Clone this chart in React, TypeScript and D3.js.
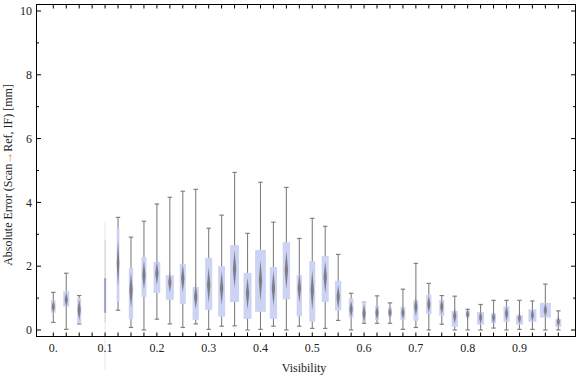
import React from "react";
import * as d3 from "d3";

// Category positions (visibility); 0.075 has no data
const visibility = [0, 0.025, 0.05, 0.1, 0.125, 0.15, 0.175, 0.2, 0.225, 0.25, 0.275, 0.3, 0.325, 0.35, 0.375, 0.4, 0.425, 0.45, 0.475, 0.5, 0.525, 0.55, 0.575, 0.6, 0.625, 0.65, 0.675, 0.7, 0.725, 0.75, 0.775, 0.8, 0.825, 0.85, 0.875, 0.9, 0.925, 0.95, 0.975];
const whiskerLow = [0.24, 0.02, 0.19, -1.25, 0.62, 0.08, 0.0, 0.34, 0.19, 0.08, 0.19, 0.02, 0.12, 0.13, 0.0, 0.02, 0.12, 0.0, 0.12, 0.05, 0.05, 0.3, 0.0, 0.21, 0.21, 0.21, 0.02, 0.08, 0.0, 0.18, 0.0, 0.0, 0.0, 0.06, 0.0, 0.02, 0.02, 0.0, 0.0];
const q1 = [0.54, 0.73, 0.21, 0.54, 0.89, 0.34, 1.04, 1.16, 0.95, 0.82, 0.32, 0.63, 0.42, 0.88, 0.35, 0.57, 0.35, 0.96, 0.43, 0.26, 0.88, 0.61, 0.39, 0.25, 0.31, 0.42, 0.32, 0.29, 0.5, 0.44, 0.1, 0.4, 0.17, 0.21, 0.26, 0.17, 0.26, 0.39, 0.1];
const median = [0.73, 0.95, 0.63, 1.1, 2.09, 1.25, 1.72, 1.78, 1.49, 1.62, 1.04, 1.41, 1.31, 1.91, 1.15, 1.55, 1.31, 1.88, 1.31, 1.25, 1.65, 1.04, 0.65, 0.52, 0.54, 0.55, 0.54, 0.73, 0.8, 0.73, 0.44, 0.49, 0.39, 0.39, 0.52, 0.37, 0.47, 0.62, 0.26];
const q3 = [0.94, 1.22, 1.0, 1.62, 3.17, 1.94, 2.29, 2.13, 1.72, 2.07, 1.35, 2.26, 2.0, 2.66, 1.79, 2.51, 1.97, 2.75, 1.72, 2.16, 2.32, 1.54, 0.99, 0.88, 0.76, 0.7, 0.72, 0.94, 1.1, 0.94, 0.6, 0.6, 0.56, 0.52, 0.74, 0.46, 0.65, 0.85, 0.34];
const whiskerHigh = [1.18, 1.78, 1.08, 3.4, 3.53, 2.91, 3.41, 3.95, 4.16, 4.35, 4.41, 3.19, 3.6, 4.94, 3.03, 4.63, 3.38, 4.47, 2.87, 3.5, 3.25, 2.37, 1.15, 0.87, 1.07, 0.85, 1.28, 2.09, 1.46, 1.08, 1.06, 0.65, 0.8, 0.93, 0.93, 0.93, 0.91, 1.44, 0.6];
// relative sample weight (drives box width)
const weight = [4.7, 6, 4, 2.3, 2.7, 4.3, 5, 6.7, 8, 6, 6.3, 7, 7, 9, 8, 10.7, 7.3, 7.3, 5.3, 6, 7, 6.3, 4.7, 3.7, 4, 4, 5, 5, 5.3, 5, 6.3, 4, 7, 5, 6, 7, 8, 11, 6];

const xTickLabels = ["0.", "0.1", "0.2", "0.3", "0.4", "0.5", "0.6", "0.7", "0.8", "0.9"];
const xTickLabelValues = [0, 0.1, 0.2, 0.3, 0.4, 0.5, 0.6, 0.7, 0.8, 0.9];
const yMajor = [0, 2, 4, 6, 8, 10];
const yMinor = [1, 3, 5, 7, 9];

const W = 576, H = 377;
const frame = { left: 36.5, right: 575.5, top: 4.5, bottom: 336.5 };
const x = d3.scaleLinear().domain([0, 0.975]).range([53.3, 558.3]);
const y = d3.scaleLinear().domain([0, 10]).range([330, 11]);
const wScale = d3.scaleLinear().domain([0, 11]).range([0, 11]);
const catTicks = d3.range(0, 40).map((i) => i * 0.025);

const FONT = "'Liberation Serif', 'Times New Roman', serif";
const BOX = "#ccd3f4";
const WH = "#808080";

export default function App() {
  return (
    <svg width={W} height={H} style={{ position: "absolute", left: 0, top: 0, background: "#fff" }}>
      <defs>
        <filter id="soft" x="-100%" y="-20%" width="300%" height="140%">
          <feGaussianBlur stdDeviation="0.6 1.2" />
        </filter>
      </defs>
      {visibility.map((v, i) => {
        const cx = x(v);
        const bw = wScale(weight[i]);
        const yq1 = y(q1[i]);
        const yq3 = y(q3[i]);
        const ym = y(median[i]);
        const faint = whiskerLow[i] < 0;
        const iqr = yq1 - yq3;
        const hh = Math.min(0.28 * iqr + 3, ym - yq3 + 3, yq1 - ym + 3);
        const hw = Math.min(bw / 2, 1.7);
        const diamond = `M${cx},${ym - hh} L${cx + hw},${ym} L${cx},${ym + hh} L${cx - hw},${ym} Z`;
        if (faint) {
          return (
            <g key={i}>
              <line x1={cx} x2={cx} y1={y(whiskerLow[i])} y2={y(whiskerHigh[i])} stroke="#e8e8e8" strokeWidth={1} />
              <line x1={cx} x2={cx} y1={y(q1[i] - 0.3)} y2={y(q3[i] + 1.2)} stroke="#cfcfcf" strokeWidth={1} />
              <rect x={cx - bw / 2} y={yq3} width={bw} height={iqr} fill="#b9c1e8" />
              <line x1={cx} x2={cx} y1={yq3} y2={yq1} stroke="#8a8a9a" strokeWidth={1} />
            </g>
          );
        }
        return (
          <g key={i}>
            <line x1={cx} x2={cx} y1={y(whiskerLow[i])} y2={y(whiskerHigh[i])} stroke={WH} strokeWidth={1.1} />
            <line x1={cx - 2.2} x2={cx + 2.2} y1={y(whiskerLow[i])} y2={y(whiskerLow[i])} stroke={WH} strokeWidth={1.2} />
            <line x1={cx - 2.2} x2={cx + 2.2} y1={y(whiskerHigh[i])} y2={y(whiskerHigh[i])} stroke={WH} strokeWidth={1.2} />
            <rect x={cx - bw / 2} y={yq3} width={bw} height={iqr} fill={BOX} />
            <path d={diamond} fill="#707070" opacity={0.85} filter="url(#soft)" />
          </g>
        );
      })}
      {/* frame */}
      <rect x={frame.left} y={frame.top} width={frame.right - frame.left} height={frame.bottom - frame.top} fill="none" stroke="#000" strokeWidth={1} />
      {catTicks.map((t, i) => (
        <g key={"ct" + i}>
          <line x1={x(t)} x2={x(t)} y1={frame.bottom} y2={frame.bottom - 4} stroke="#000" strokeWidth={1} />
          <line x1={x(t)} x2={x(t)} y1={frame.top} y2={frame.top + 4} stroke="#000" strokeWidth={1} />
        </g>
      ))}
      {yMajor.map((t) => (
        <g key={"ym" + t}>
          <line x1={frame.left} x2={frame.left + 4.5} y1={y(t)} y2={y(t)} stroke="#000" />
          <line x1={frame.right} x2={frame.right - 4.5} y1={y(t)} y2={y(t)} stroke="#000" />
          <text x={32} y={y(t)} dy="0.35em" textAnchor="end" fontFamily={FONT} fontSize={12} fill="#222">{t}</text>
        </g>
      ))}
      {yMinor.map((t) => (
        <g key={"yn" + t}>
          <line x1={frame.left} x2={frame.left + 2.5} y1={y(t)} y2={y(t)} stroke="#000" />
          <line x1={frame.right} x2={frame.right - 2.5} y1={y(t)} y2={y(t)} stroke="#000" />
        </g>
      ))}
      {xTickLabelValues.map((t, i) => (
        <text key={"xl" + i} x={x(t)} y={352} textAnchor="middle" fontFamily={FONT} fontSize={12} fill="#222">{xTickLabels[i]}</text>
      ))}
      <text x={304} y={372} textAnchor="middle" fontFamily={FONT} fontSize={12} fill="#222">Visibility</text>
      <text transform="translate(12,175) rotate(-90)" textAnchor="middle" fontFamily={FONT} fontSize={12} fill="#222">
        Absolute Error (Scan<tspan fill="#d9772b">→</tspan>Ref, IF) [mm]
      </text>
    </svg>
  );
}
